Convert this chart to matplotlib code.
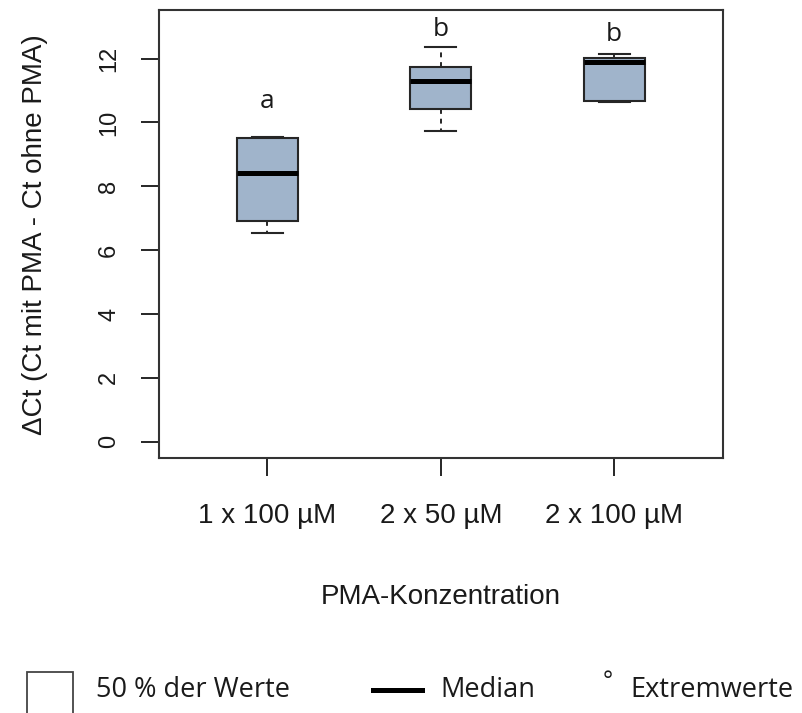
import matplotlib
matplotlib.use("Agg")
import matplotlib.pyplot as plt
from matplotlib.lines import Line2D
from matplotlib.patches import Rectangle

# five-number summaries per PMA treatment (delta Ct)
groups = ["1 x 100 µM", "2 x 50 µM", "2 x 100 µM"]
whis_lo = [6.54, 9.73, 10.64]
q1 = [6.90, 10.41, 10.67]
median = [8.42, 11.30, 11.90]
q3 = [9.50, 11.74, 12.01]
whis_hi = [9.53, 12.37, 12.14]

# significance letters and their heights
letters = ["a", "b", "b"]
letter_y = [10.67, 12.92, 12.76]

yticks = [0, 2, 4, 6, 8, 10, 12]

AXFONT = "Liberation Sans"
LEGFONT = "Open Sans"
BOX_FILL = "#a0b4cb"
EDGE = "#262626"

fig = plt.figure(figsize=(8.03, 7.13), dpi=100)
ax = fig.add_axes([159/803, 1 - 458.3/713, (722.7-159)/803, (458.3-10)/713])

stats = []
for i, g in enumerate(groups):
    stats.append(dict(label=g, whislo=whis_lo[i], q1=q1[i], med=median[i],
                      q3=q3[i], whishi=whis_hi[i], fliers=[]))

pos = list(range(1, len(groups) + 1))
ax.bxp(stats, positions=pos, widths=0.35, capwidths=0.18, patch_artist=True,
       showfliers=False,
       boxprops=dict(facecolor=BOX_FILL, edgecolor=EDGE, linewidth=1.5),
       whiskerprops=dict(color=EDGE, linewidth=1.4, linestyle=(0, (2.5, 2.5))),
       capprops=dict(color=EDGE, linewidth=1.5),
       medianprops=dict(color="black", linewidth=3.6, solid_capstyle="butt"))

for x, t, y in zip(pos, letters, letter_y):
    ax.text(x, y, t, ha="center", va="center", fontsize=19, family=LEGFONT,
            color="#1a1a1a")

ax.set_xlim(0.375, 3.625)
ax.set_ylim(-0.52, 13.52)
ax.set_yticks(yticks)
ax.set_yticklabels([str(v) for v in yticks], rotation=90, va="center",
                   family=AXFONT, fontsize=17)
ax.set_xticks(pos)
ax.set_xticklabels(groups, family=AXFONT, fontsize=20)
ax.tick_params(axis="both", direction="out", length=13, width=1.4, color="#262626",
               labelcolor="#1a1a1a")
ax.tick_params(axis="y", pad=15)
ax.tick_params(axis="x", pad=19)
for s in ax.spines.values():
    s.set_linewidth(1.5)
    s.set_color("#333333")

ax.set_xlabel("PMA-Konzentration", family=AXFONT, fontsize=20, labelpad=40,
              color="#1a1a1a")
ax.set_ylabel("ΔCt (Ct mit PMA - Ct ohne PMA)", family=AXFONT, fontsize=20,
              labelpad=36, color="#1a1a1a")

# legend drawn below the axis label
def fx(px):
    return px / 803

def fy(py):
    return 1 - py / 713

fig.patches.append(Rectangle((fx(26.7), fy(720)), fx(73.3) - fx(26.7), fy(671.7) - fy(720),
                             transform=fig.transFigure, fill=False,
                             edgecolor="#444444", linewidth=1.3))
fig.text(fx(96), fy(690), "50 % der Werte", family=LEGFONT, fontsize=19.5,
         va="center", ha="left", color="#1a1a1a")
fig.lines.append(Line2D([fx(373), fx(421.7)], [fy(690), fy(690)],
                        transform=fig.transFigure, color="black", linewidth=3.6))
fig.text(fx(440), fy(690), "Median", family=LEGFONT, fontsize=19.5,
         va="center", ha="left", color="#1a1a1a")
fig.text(fx(608), fy(682), "°", family=LEGFONT, fontsize=17,
         va="center", ha="center", color="#1a1a1a")
fig.text(fx(630), fy(690), "Extremwerte", family=LEGFONT, fontsize=19.5,
         va="center", ha="left", color="#1a1a1a")

fig.savefig("out.png", dpi=100)
